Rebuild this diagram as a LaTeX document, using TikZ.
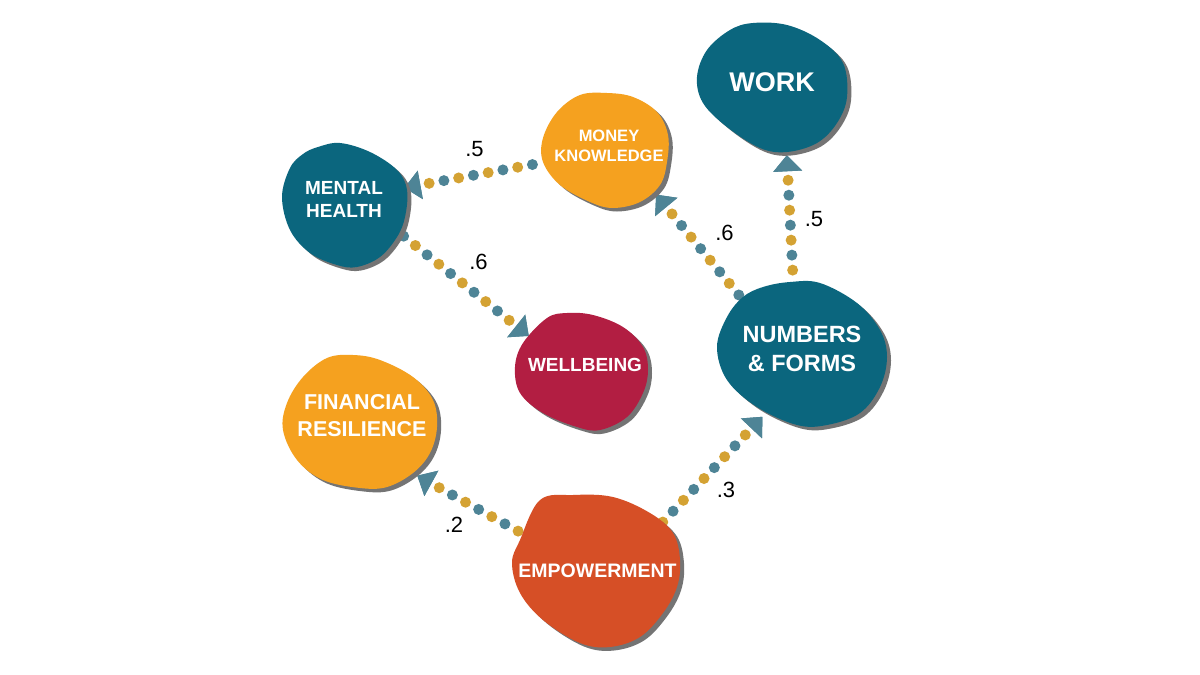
\documentclass[tikz,border=0pt]{standalone}
\usepackage{fontspec}
\setmainfont{Liberation Sans}
\usetikzlibrary{arrows.meta,shapes.geometric,calc}
\definecolor{blobteal}{HTML}{0B667E}
\definecolor{bloborange}{HTML}{F5A11F}
\definecolor{blobred}{HTML}{B21E42}
\definecolor{blobver}{HTML}{D64F26}
\definecolor{dotteal}{HTML}{4E8496}
\definecolor{dotgold}{HTML}{D4A233}
\definecolor{shadowgray}{HTML}{747474}
\pgfdeclarelayer{back}
\pgfdeclarelayer{blobs}
\pgfsetlayers{back,blobs,main}
\newcommand\myblob[2]{%
  \fill[shadowgray, shift={(4,3.5)}] plot[smooth cycle, tension=0.6] coordinates {#2};
  \fill[#1] plot[smooth cycle, tension=0.6] coordinates {#2};}
\tikzset{
  anchorbox/.style={ellipse, inner sep=0pt, outer sep=0pt, draw=none},
  btext/.style={text=white, align=center, inner sep=0pt},
  lbl/.style={font=\fontsize{22}{22}\selectfont, text=black, inner sep=0pt},
  conn/.style={line width=11pt, line cap=round, draw=dotgold,
    dash pattern=on 0pt off 30pt, dash phase=21pt,
    {Triangle[length=16pt,width=29pt,line width=0pt,color=dotteal]}-,
    shorten <=#1,
    postaction={draw=dotteal, line width=11pt, line cap=round,
      dash pattern=on 0pt off 30pt, dash phase=6pt,
      {Triangle[length=16pt,width=29pt,line width=0pt,color=dotteal]}-,
      shorten <=#1}},
  conn/.default=0pt
}
\begin{document}
\begin{tikzpicture}[x=1pt,y=-1pt]
\useasboundingbox (0,0) rectangle (1200,675);
\begin{pgfonlayer}{back}
\fill[white] (0,0) rectangle (1200,675);
\end{pgfonlayer}

% nodes (blob anchors with their texts)
\node[anchorbox, minimum width=150pt, minimum height=129pt,
  label={[btext, font=\fontsize{27}{32}\selectfont\bfseries, yshift=5.5pt]center:WORK}] (work) at (772,87.5) {};
\node[anchorbox, minimum width=125pt, minimum height=115pt,
  label={[btext, font=\fontsize{16.5}{20.5}\selectfont\bfseries, xshift=3.5pt, yshift=4.5pt]center:{MONEY\\KNOWLEDGE}}] (mk) at (605.5,150.5) {};
\node[anchorbox, minimum width=125pt, minimum height=124pt,
  label={[btext, font=\fontsize{19}{23}\selectfont\bfseries, xshift=-0.5pt, yshift=5.5pt]center:{MENTAL\\HEALTH}}] (mh) at (344.5,205) {};
\node[anchorbox, minimum width=133pt, minimum height=117pt,
  label={[btext, font=\fontsize{19}{23}\selectfont\bfseries, xshift=3.5pt, yshift=6.5pt]center:WELLBEING}] (wb) at (581.5,371.5) {};
\node[anchorbox, minimum width=170pt, minimum height=143pt,
  label={[btext, font=\fontsize{23.5}{29}\selectfont\bfseries, yshift=4.5pt]center:{NUMBERS\\\& FORMS}}] (nf) at (802,353.5) {};
\node[anchorbox, minimum width=154pt, minimum height=133pt,
  label={[btext, font=\fontsize{21.5}{27}\selectfont\bfseries, xshift=2pt, yshift=6pt]center:{FINANCIAL\\RESILIENCE}}] (fr) at (360,421.5) {};
\node[anchorbox, minimum width=168pt, minimum height=152pt,
  label={[btext, font=\fontsize{19.5}{23}\selectfont\bfseries, xshift=1.5pt]center:EMPOWERMENT}] (em) at (596,571) {};

% blobs
\begin{pgfonlayer}{blobs}
\myblob{blobteal}{(730,30) (753,23) (787,25) (820,40) (843,63) (847,97) (837,123) (817,143) (787,152) (760,148) (727,127) (703,103) (697,77) (707,50)}
\myblob{bloborange}{(580,95) (607,93) (633,97) (657,112) (668,135) (667,162) (660,185) (640,202) (613,208) (590,202) (560,185) (543,162) (543,138) (557,112)}
\myblob{blobteal}{(318,147) (340,143) (370,152) (397,170) (407,190) (405,217) (397,237) (380,257) (357,267) (337,265) (310,253) (290,230) (282,197) (290,168) (303,154)}
\myblob{blobred}{(547,318) (567,313) (593,315) (623,327) (643,347) (648,370) (643,393) (627,417) (600,430) (577,427) (543,413) (520,393) (515,367) (523,343)}
\myblob{blobteal}{(763,287) (790,282) (820,283) (857,303) (880,330) (887,357) (880,387) (860,413) (827,425) (797,425) (757,407) (727,380) (717,347) (727,317) (743,297)}
\myblob{bloborange}{(327,358) (353,355) (380,360) (413,377) (433,400) (437,427) (430,453) (413,473) (387,487) (360,488) (323,480) (297,460) (283,430) (287,403) (303,377)}
\myblob{blobver}{(540,500) (573,495) (613,497) (650,513) (673,533) (680,560) (677,587) (663,613) (640,637) (610,647) (580,643) (543,620) (520,593) (512,563) (520,540)}
\end{pgfonlayer}

% connectors
\begin{pgfonlayer}{back}
\draw[conn] (mh.16) -- (mk.191);
\draw[conn] (wb.146) -- (mh.-27);
\draw[conn=7pt] (mk.-40) -- (nf.138);
\draw[conn=4.5pt] (work.-77) -- (nf.97);
\draw[conn=8pt] (fr.-45) -- (em.153);
\draw[conn] (nf.238) -- (em.36);
\end{pgfonlayer}

% connector labels
\node[lbl] (l1) at (474.5,149) {.5};
\node[lbl] (l2) at (478.5,262) {.6};
\node[lbl] (l3) at (724.5,233) {.6};
\node[lbl] (l4) at (814,219) {.5};
\node[lbl] (l5) at (454,524.5) {.2};
\node[lbl] (l6) at (726,490) {.3};
\end{tikzpicture}
\end{document}
